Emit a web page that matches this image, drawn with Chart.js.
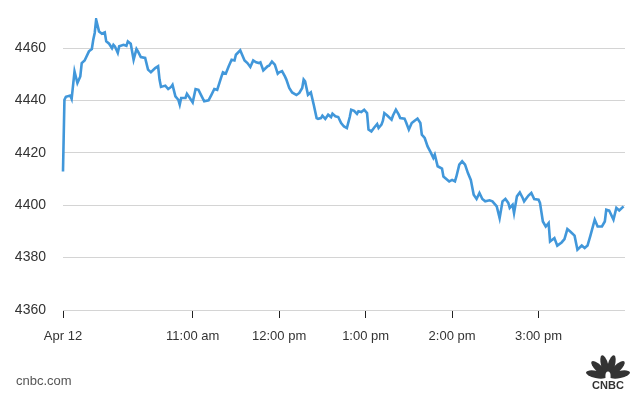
<!DOCTYPE html>
<html>
<head>
<meta charset="utf-8">
<script src="https://cdn.jsdelivr.net/npm/chart.js@4"></script>
<style>
  body { margin: 0; background: #fff; }
  #wrap { width: 636px; height: 395px; position: relative; }
</style>
</head>
<body>
<div id="wrap"><canvas id="chart"></canvas></div>
<script>
// minutes after 9:30 am open
const times = [
  0, 1, 2, 5, 6, 8, 10, 12, 13, 15,
  18, 20, 21, 22, 23, 25, 27, 29, 30, 32,
  34, 35, 36, 38, 39, 42, 44, 45, 47, 49,
  51, 52, 54, 57, 59, 61, 64, 66, 67, 68,
  71, 73, 75, 76, 78, 80, 81, 82, 85, 86,
  88, 90, 92, 94, 96, 98, 101, 103, 105, 107,
  110, 111, 113, 115, 117, 119, 120, 123, 124, 126,
  128, 130, 132, 134, 136, 137, 139, 142, 143, 145,
  147, 149, 150, 152, 154, 155, 157, 159, 162, 164,
  166, 167, 168, 170, 172, 174, 176, 177, 179, 180,
  182, 184, 186, 187, 189, 191, 193, 195, 197, 199,
  200, 202, 204, 205, 207, 209, 211, 212, 214, 216,
  218, 219, 221, 222, 223, 225, 228, 229, 231, 233,
  234, 237, 238, 240, 242, 244, 246, 248, 249, 251,
  253, 255, 257, 258, 260, 263, 264, 268, 270, 272,
  273, 275, 277, 279, 281, 283, 285, 287, 289, 291,
  293, 296, 298, 301, 303, 305, 307, 309, 310, 312,
  313, 315, 317, 319, 320, 323, 325, 327, 330, 331,
  333, 335, 337, 338, 341, 343, 346, 348, 350, 352,
  355, 357, 360, 362, 364, 366, 369, 371, 374, 376,
  377, 379, 382, 384, 386, 389
];

const prices = [
  4412.9, 4440.3, 4441.4, 4441.9, 4440.6, 4451.1, 4446.7, 4449.2, 4454.3, 4455.3,
  4458.8, 4459.7, 4463.2, 4465.8, 4470.9, 4466.4, 4465.5, 4466.0, 4462.6, 4461.7,
  4460.0, 4461.3, 4460.7, 4458.2, 4460.7, 4461.3, 4460.9, 4462.6, 4461.7, 4455.6,
  4459.7, 4458.8, 4456.6, 4456.3, 4451.8, 4450.8, 4452.4, 4453.1, 4448.0, 4445.2,
  4445.7, 4444.4, 4445.2, 4446.0, 4441.6, 4440.3, 4438.4, 4441.0, 4441.0, 4442.6,
  4441.0, 4439.3, 4444.4, 4444.1, 4441.9, 4439.7, 4440.1, 4442.2, 4444.4, 4444.1,
  4449.2, 4450.8, 4450.3, 4453.1, 4455.6, 4455.3, 4457.5, 4459.2, 4457.9, 4455.3,
  4454.3, 4452.8, 4455.3, 4454.6, 4454.3, 4454.6, 4451.5, 4453.1, 4453.3, 4454.9,
  4453.7, 4450.3, 4450.8, 4451.2, 4449.2, 4448.0, 4444.8, 4443.1, 4442.1, 4442.9,
  4444.8, 4448.0, 4447.3, 4442.2, 4443.1, 4438.4, 4433.3, 4433.0, 4433.3, 4434.2,
  4433.0, 4434.6, 4433.7, 4435.0, 4434.0, 4433.7, 4431.4, 4430.1, 4429.5, 4433.7,
  4436.5, 4436.1, 4434.9, 4435.9, 4435.6, 4436.5, 4435.2, 4428.9, 4428.2, 4429.7,
  4431.0, 4429.5, 4430.8, 4432.3, 4435.2, 4434.3, 4432.7, 4434.3, 4436.5, 4434.6,
  4433.3, 4433.1, 4431.8, 4428.9, 4431.4, 4432.3, 4433.1, 4431.4, 4427.0, 4425.7,
  4422.5, 4420.4, 4418.1, 4419.3, 4414.9, 4414.0, 4411.0, 4409.1, 4409.7, 4409.1,
  4411.0, 4415.5, 4416.8, 4415.5, 4412.3, 4409.7, 4404.0, 4402.4, 4404.7, 4402.4,
  4401.5, 4401.9, 4401.5, 4399.6, 4395.1, 4401.5, 4402.4, 4400.9, 4399.0, 4400.2,
  4397.0, 4403.4, 4404.9, 4402.8, 4401.5, 4403.7, 4404.7, 4402.4, 4402.1, 4400.9,
  4393.8, 4391.9, 4393.2, 4386.2, 4387.5, 4384.6, 4385.8, 4387.1, 4390.9, 4390.0,
  4388.4, 4383.0, 4384.6, 4383.7, 4384.6, 4388.4, 4394.5, 4391.9, 4391.9, 4393.8,
  4398.3, 4398.0, 4394.5, 4399.0, 4398.0, 4399.6
];

const tickMinutes = [0, 90, 150, 210, 270, 330];
const tickLabels = ["Apr 12", "11:00 am", "12:00 pm", "1:00 pm", "2:00 pm", "3:00 pm"];
const yTicks = [4360, 4380, 4400, 4420, 4440, 4460];

const FONT = "'Liberation Sans', Arial, sans-serif";

// source text and peacock logo at the bottom
const footer = {
  id: "footer",
  afterDraw(c) {
    const ctx = c.ctx;
    ctx.save();
    ctx.fillStyle = "#555";
    ctx.font = "13px " + FONT;
    ctx.textBaseline = "middle";
    ctx.textAlign = "left";
    ctx.fillText("cnbc.com", 16, 381);

    ctx.fillStyle = "#333";
    const cx = 608, cy = 377;
    for (let i = 0; i < 6; i++) {
      const a = (-168 + i * 31.2) * Math.PI / 180;
      ctx.save();
      ctx.translate(cx + Math.cos(a) * 12, cy + Math.sin(a) * 12);
      ctx.rotate(a);
      ctx.beginPath();
      ctx.ellipse(0, 0, 10.5, 3.6, 0, 0, Math.PI * 2);
      ctx.fill();
      ctx.restore();
    }
    ctx.fillStyle = "#fff";
    ctx.beginPath();
    ctx.ellipse(cx, cy - 1, 2.6, 4.5, 0, 0, Math.PI * 2);
    ctx.fill();
    ctx.fillStyle = "#333";
    ctx.font = "bold 11px " + FONT;
    ctx.textAlign = "center";
    ctx.fillText("CNBC", cx, 386);
    ctx.restore();
  }
};

new Chart(document.getElementById("chart"), {
  type: "line",
  data: {
    datasets: [{
      data: times.map((t, i) => ({ x: t, y: prices[i] })),
      borderColor: "#4197da",
      borderWidth: 2.6,
      pointRadius: 0,
      tension: 0,
      fill: false,
      clip: 4
    }]
  },
  options: {
    responsive: true,
    maintainAspectRatio: false,
    animation: false,
    layout: { padding: { top: 22, right: 11, bottom: 45, left: 0 } },
    plugins: { legend: { display: false }, tooltip: { enabled: false } },
    scales: {
      x: {
        type: "linear",
        min: 0,
        max: 390,
        afterBuildTicks: s => { s.ticks = tickMinutes.map(v => ({ value: v })); },
        afterFit: s => { s.height = 40; s.paddingRight = 0; },
        border: { display: false },
        grid: { drawOnChartArea: false, drawTicks: true, tickLength: 8, tickColor: "#222", tickWidth: 1 },
        ticks: {
          padding: 11,
          maxRotation: 0,
          autoSkip: false,
          color: "#333",
          font: { family: FONT, size: 13 },
          callback: v => tickLabels[tickMinutes.indexOf(v)]
        }
      },
      y: {
        min: 4360,
        max: 4470,
        afterBuildTicks: s => { s.ticks = yTicks.map(v => ({ value: v })); },
        afterFit: s => { s.width = 63; s.paddingTop = 0; s.paddingBottom = 0; },
        border: { display: false },
        grid: { color: "#d4d4d4", lineWidth: 1, drawTicks: false },
        ticks: {
          padding: 17,
          color: "#333",
          font: { family: FONT, size: 14 },
          callback: v => String(v)
        }
      }
    }
  },
  plugins: [footer]
});
</script>
</body>
</html>
